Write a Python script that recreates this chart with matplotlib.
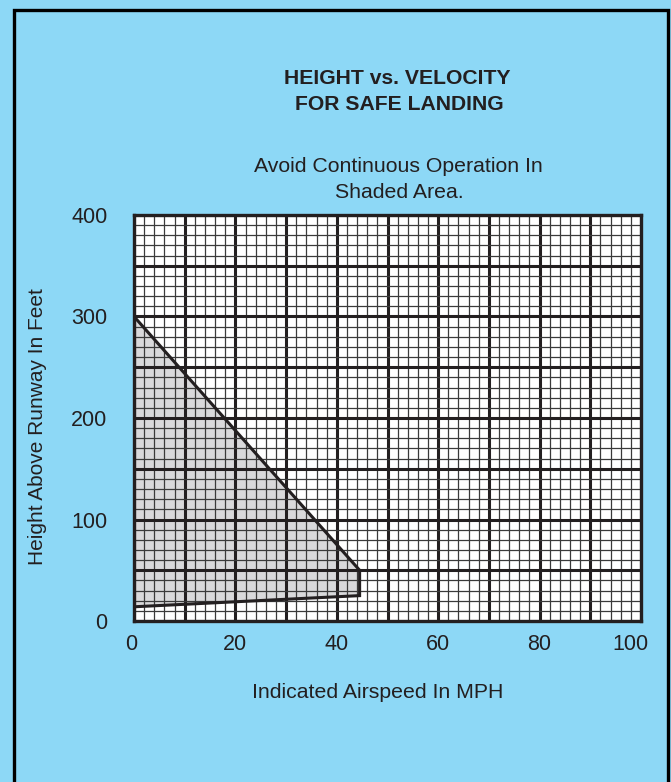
import numpy as np
import matplotlib.pyplot as plt
import matplotlib.transforms as mtransforms
from matplotlib.patches import Rectangle

# shaded "avoid" region of the height-velocity diagram
speed_mph = [0, 44.5, 44.5, 0]
height_ft = [300, 50, 25, 14]

x_ticks = [0, 20, 40, 60, 80, 100]
y_ticks = [0, 100, 200, 300, 400]

blue = '#8dd8f6'
ink = '#231f20'

plt.rcParams['font.family'] = ['Liberation Sans', 'DejaVu Sans']

fig = plt.figure(figsize=(6.71, 7.82), dpi=100)
fig.patch.set_facecolor(blue)

# outer frame
fig.patches.append(Rectangle((13.5 / 671, -0.05), (668 - 13.5) / 671, 1.05 - 9.5 / 782,
                             transform=fig.transFigure, fill=False,
                             edgecolor='black', linewidth=2.4, zorder=0))

ax = fig.add_axes([134 / 671, 161 / 782, 507 / 671, 406 / 782])
ax.set_facecolor('white')
ax.set_xlim(0, 100)
ax.set_ylim(0, 400)

ax.fill(speed_mph, height_ft, color='#d9d9db', zorder=1, linewidth=0)

# graph paper grid
for v in np.arange(0, 101, 2):
    major = v % 10 == 0
    ax.axvline(v, color=ink if major else '#3a3a3a',
               lw=2.2 if major else 0.9, zorder=2)
for h in np.arange(0, 401, 10):
    major = h % 50 == 0
    ax.axhline(h, color=ink if major else '#3a3a3a',
               lw=2.2 if major else 0.9, zorder=2)

ax.plot(speed_mph + speed_mph[:1], height_ft + height_ft[:1],
        color=ink, lw=2.2, zorder=3, solid_joinstyle='miter')

for s in ax.spines.values():
    s.set_linewidth(2.4)
    s.set_color(ink)
    s.set_zorder(4)

ax.set_xticks(x_ticks)
ax.set_yticks(y_ticks)
ax.tick_params(length=0, labelsize=15.5, colors=ink)
ax.tick_params(axis='x', pad=9)
ax.tick_params(axis='y', pad=19)

# end labels sit a little inside in the original
xlabels = ax.get_xticklabels()
for lab, dx in [(xlabels[0], -3), (xlabels[-1], -11)]:
    lab.set_transform(lab.get_transform() +
                      mtransforms.ScaledTranslation(dx / 100, 0, fig.dpi_scale_trans))

fig.text(397 / 671, 1 - 78 / 782, 'HEIGHT vs. VELOCITY', ha='center', va='center',
         fontsize=15.2, fontweight='bold', color=ink)
fig.text(399 / 671, 1 - 104 / 782, 'FOR SAFE LANDING', ha='center', va='center',
         fontsize=15.2, fontweight='bold', color=ink)
fig.text(398 / 671, 1 - 167 / 782, 'Avoid Continuous Operation In', ha='center',
         va='center', fontsize=15.3, color=ink)
fig.text(399 / 671, 1 - 192 / 782, 'Shaded Area.', ha='center', va='center',
         fontsize=15.3, color=ink)
fig.text(378 / 671, 1 - 693 / 782, 'Indicated Airspeed In MPH', ha='center',
         va='center', fontsize=15.3, color=ink)
fig.text(38 / 671, 1 - 427 / 782, 'Height Above Runway In Feet', ha='center',
         va='center', rotation=90, fontsize=15.0, color=ink)

fig.savefig('out.png', dpi=100, facecolor=blue)
